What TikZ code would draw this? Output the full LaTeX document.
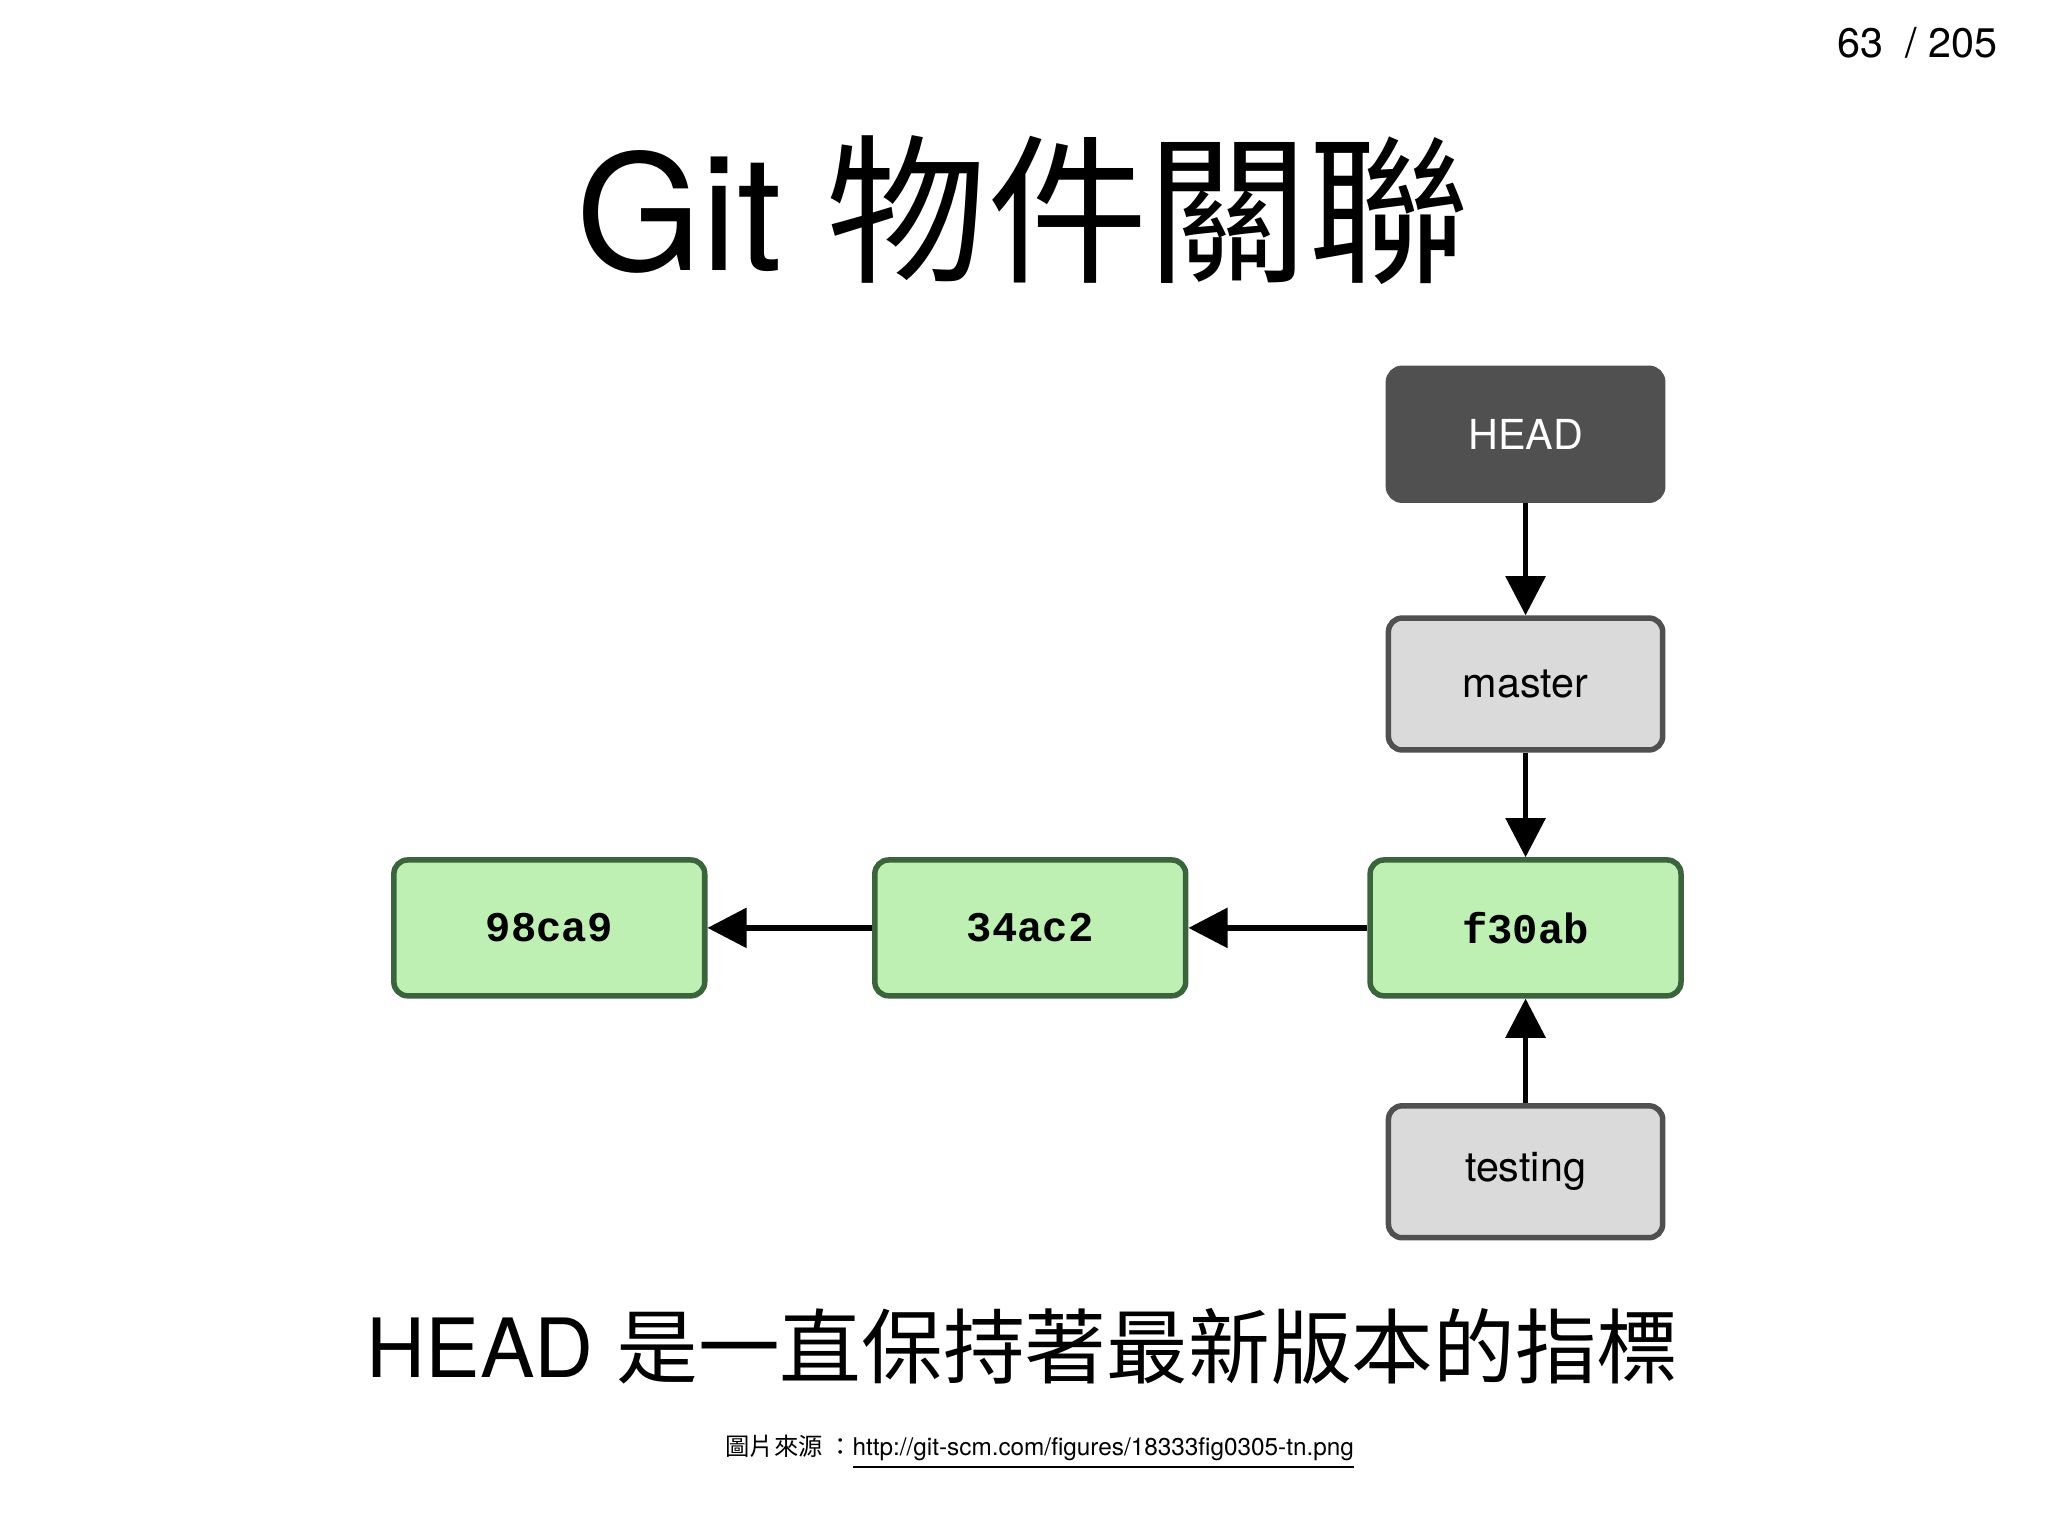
\documentclass[tikz,border=0pt]{standalone}
\usepackage{fontspec}
\setmainfont{TeX Gyre Heros}
\newfontfamily\cjk{Noto Sans CJK TC}
\newfontfamily\hashfont{Liberation Mono}
\usetikzlibrary{arrows.meta,positioning}
\definecolor{c1}{RGB}{80,80,80}
\definecolor{c2}{RGB}{218,218,218}
\definecolor{c3}{RGB}{190,240,180}
\definecolor{c4}{RGB}{60,100,60}
\tikzset{
  ref/.style={draw=c1, line width=1.2pt, rounded corners=3pt, minimum width=21mm, minimum height=10.1mm, align=center, font=\fontsize{9}{10}\selectfont},
  commit/.style={draw=c4, fill=c3, line width=1.2pt, rounded corners=3pt, minimum width=23.8mm, minimum height=10.4mm, font=\hashfont\bfseries\fontsize{9.2}{11}\selectfont},
  edge/.style={-{Triangle[length=3mm,width=3mm]}, line width=1.2pt}
}
\begin{document}
\begin{tikzpicture}
    \useasboundingbox (0,0) rectangle (15.68,11.76);
    \node [anchor=east, font=\fontsize{9}{10}\selectfont] (page) at (15.42,11.43) {63 \ / 205};
    \node [font=\fontsize{35}{40}\selectfont] (title) at (7.83,10.15) {Git {\cjk 物件關聯}};

    \node [ref, fill=c1, text=white] (head) at (11.68,8.435) {HEAD};
    \node [ref, fill=c2, below=0.86cm of head] (master) {master};
    \node [commit, below=0.8cm of master] (f30ab) {f30ab};
    \node [commit, left=1.37cm of f30ab] (34ac2) {34ac2};
    \node [commit, left=1.26cm of 34ac2] (98ca9) {98ca9};
    \node [ref, fill=c2, below=0.8cm of f30ab] (testing) {testing};

    \draw [edge] (head) -- (master);
    \draw [edge] (master) -- (f30ab);
    \draw [edge] (f30ab) -- (34ac2);
    \draw [edge] (34ac2) -- (98ca9);
    \draw [edge] (testing) -- (f30ab);

    \node [font=\fontsize{17.8}{22}\selectfont] (sub) at (7.83,1.45) {HEAD {\cjk 是一直保持著最新版本的指標}};
    \node [font=\fontsize{5.3}{6}\selectfont] (src) at (7.96,0.64) {{\cjk 圖片來源 ：}\underline{http://git-scm.com/figures/18333fig0305-tn.png}};
\end{tikzpicture}
\end{document}
